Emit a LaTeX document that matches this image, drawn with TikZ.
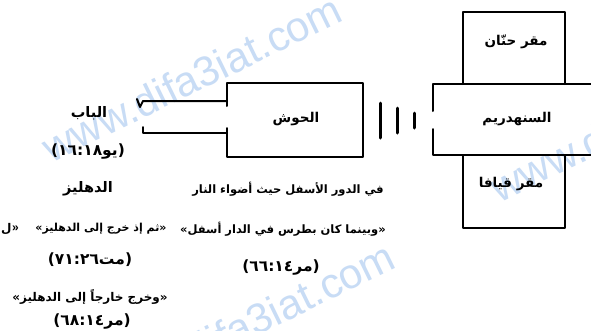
\documentclass[tikz,border=0pt]{standalone}
\usepackage{fontspec}
\TeXXeTstate=1
\newfontfamily\arabicfont[Script=Arabic]{DejaVu Sans}
\newfontfamily\markfont{Liberation Sans}
\definecolor{wmblue}{RGB}{200,220,245}
% verse reference as one right-to-left word: book, chapter, colon, verse
\newcommand{\bibref}[3]{\beginR(#1#3:#2)\endR}
\tikzset{
  wall/.style={line width=2pt, line cap=round, line join=round},
  screen/.style={line width=3pt, line cap=round},
  lbl/.style={font=\arabicfont\bfseries\fontsize{12}{14}\selectfont, inner sep=0pt},
  room/.style={lbl, font=\arabicfont\bfseries\fontsize{13.5}{15}\selectfont},
  word/.style={lbl, font=\arabicfont\bfseries\fontsize{14.5}{16}\selectfont},
  refer/.style={lbl, font=\arabicfont\bfseries\fontsize{15.5}{17}\selectfont},
  longline/.style={lbl, font=\arabicfont\bfseries\fontsize{11.5}{13}\selectfont},
  quotemark/.style={inner sep=0pt, font=\markfont\bfseries\fontsize{12}{14}\selectfont},
  wmark/.style={font=\markfont\fontsize{42}{42}\selectfont, text=wmblue, rotate=26, inner sep=0pt}
}
\begin{document}
\begin{tikzpicture}[x=1pt,y=-1pt]
\useasboundingbox (0,0) rectangle (591,330);
\clip (0,0) rectangle (591,330);
\fill[white] (0,0) rectangle (591,330);

% site watermark, behind everything
\node[wmark] (wm1) at (192,78) {www.difa3iat.com};
\node[wmark] (wm2) at (640,118) {www.difa3iat.com};
\node[wmark] (wm3) at (245,325) {www.difa3iat.com};

% courtyard with its opening on the left
\draw[wall] (227,106) -- (227,83) -- (363,83) -- (363,157) -- (227,157) -- (227,128);
% passage walls leading out to the door
\draw[wall] (227,101) -- (143,101) -- (140,107) -- (137,99);
\draw[wall] (227,133) -- (143,133) -- (143,127);

% screens between courtyard and hall
\draw[screen] (380,103) -- (380,138);
\draw[screen] (397,108) -- (397,133);
\draw[screen] (414,113) -- (414,128);

% council hall, open to the right
\draw[wall] (433,111) -- (433,84) -- (600,84);
\draw[wall] (433,129) -- (433,155) -- (600,155);
% residences above and below the hall
\draw[wall] (463,84) -- (463,12) -- (565,12) -- (565,84);
\draw[wall] (463,155) -- (463,228) -- (565,228) -- (565,155);

% room names
\node[room] (hosh) at (296,119) {\beginR الحوش\endR};
\node[room] (sanh) at (517,119) {\beginR السنهدريم\endR};
\node[room] (hanan) at (516,42) {\beginR مقر حنّان\endR};
\node[room] (qayafa) at (511,184) {\beginR مقر قيافا\endR};

% left column
\node[word] (bab) at (89,113) {\beginR الباب\endR};
\node[refer] (babref) at (88,152) {\bibref{يو}{١٨}{١٦}};
\node[word] (dahliz) at (88,189) {\beginR الدهليز\endR};
\node[lbl, anchor=west] (fragl) at (1,229) {ل};
\node[quotemark, anchor=west] (fragq) at (fragl.east) {»};
\node[lbl, font=\arabicfont\bfseries\fontsize{11}{13}\selectfont] (mtq) at (101,229) {\beginR«ثم إذ خرج إلى الدهليز»\endR};
\node[refer] (mtref) at (90,260) {\bibref{مت}{٢٦}{٧١}};
\node[lbl] (mkq) at (90,297) {\beginR«وخرج خارجاً إلى الدهليز»\endR};
\node[refer] (mkref) at (92,322) {\bibref{مر}{١٤}{٦٨}};

% middle column
\node[longline] (floor) at (288,189) {\beginR في الدور الأسفل حيث أضواء النار\endR};
\node[longline] (mkq2) at (283,229) {\beginR«وبينما كان بطرس في الدار أسفل»\endR};
\node[refer] (mkref2) at (281,268) {\bibref{مر}{١٤}{٦٦}};
\end{tikzpicture}
\end{document}
